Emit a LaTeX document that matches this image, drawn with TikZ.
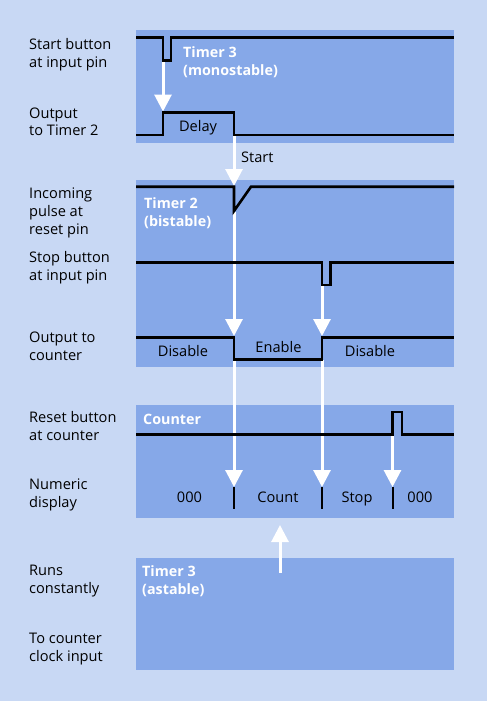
\documentclass[tikz,border=0pt]{standalone}
\usepackage{fontspec}
\setmainfont{Open Sans}
\usetikzlibrary{arrows.meta}
\definecolor{bgc}{HTML}{C8D8F4}
\definecolor{boxc}{HTML}{86A8E8}
\begin{document}
\begin{tikzpicture}[x=1pt,y=-1pt,
 sig/.style={line width=2.6pt,black,line join=miter},
 bar/.style={line width=2.6pt,black},
 flow/.style={line width=3pt,white,-{Triangle[width=17pt,length=17pt]}},
 lbl/.style={anchor=base west,inner sep=0pt,font=\fontsize{14.6}{18}\selectfont},
 ttl/.style={anchor=base west,inner sep=0pt,text=white,font=\fontsize{14.3}{18}\selectfont\bfseries},
 mid/.style={anchor=base,inner sep=0pt,font=\fontsize{14.6}{18}\selectfont}]
\fill[bgc] (0,0) rectangle (487,701);
\useasboundingbox (0,0) rectangle (487,701);
% panels
\fill[boxc] (136,30) rectangle (454,143);
\fill[boxc] (136,180) rectangle (454,367);
\fill[boxc] (136,405) rectangle (454,517.5);
\fill[boxc] (136,557.5) rectangle (454,669.5);
% coordinates for flows
\coordinate (s1) at (163,61);   \coordinate (e1) at (163,111.5);
\coordinate (s2) at (234,136);  \coordinate (e2) at (234,186);
\coordinate (s3) at (234,212);  \coordinate (e3) at (234,336);
\coordinate (s4) at (322,286);  \coordinate (e4) at (322,336);
\coordinate (s5) at (234,360);  \coordinate (e5) at (234,487);
\coordinate (s6) at (322,360);  \coordinate (e6) at (322,487);
\coordinate (s7) at (392.5,435);\coordinate (e7) at (392.5,487);
\coordinate (s8) at (280,573);  \coordinate (e8) at (280,525);
\foreach \i in {1,...,8} {\draw[flow] (s\i) -- (e\i);}
% signals
\draw[sig] (136,37.3) -- (163,37.3) -- (163,60.3) -- (171,60.3) -- (171,37.3) -- (454,37.3);
\draw[sig] (136,135) -- (163,135) -- (163,112.7) -- (234,112.7) -- (234,135) -- (454,135);
\draw[sig] (136,186.7) -- (234,186.7) -- (234,211) -- (251,186.7) -- (454,186.7);
\draw[sig] (136,262.3) -- (322,262.3) -- (322,285) -- (330.5,285) -- (330.5,262.3) -- (454,262.3);
\draw[sig] (136,337.7) -- (234,337.7) -- (234,359.3) -- (322,359.3) -- (322,337.7) -- (454,337.7);
\draw[sig] (136,434.3) -- (392.5,434.3) -- (392.5,412) -- (402,412) -- (402,434.3) -- (454,434.3);
\draw[bar] (234,487.3) -- (234,509.3);
\draw[bar] (322,487.3) -- (322,509.3);
\draw[bar] (393,487.3) -- (393,509.3);
% left labels
\node[lbl] (l1a) at (29,49.5) {Start button};
\node[lbl] (l1b) at (29,67.5) {at input pin};
\node[lbl] (l2a) at (29,118.5) {Output};
\node[lbl] (l2b) at (29,135.5) {to Timer 2};
\node[lbl] (l3a) at (29,198) {Incoming};
\node[lbl] (l3b) at (29,216) {pulse at};
\node[lbl] (l3c) at (29,234) {reset pin};
\node[lbl] (l4a) at (29,262.5) {Stop button};
\node[lbl] (l4b) at (29,280.5) {at input pin};
\node[lbl] (l5a) at (29,342.5) {Output to};
\node[lbl] (l5b) at (29,360.5) {counter};
\node[lbl] (l6a) at (29,422) {Reset button};
\node[lbl] (l6b) at (29,440) {at counter};
\node[lbl] (l7a) at (29,489.5) {Numeric};
\node[lbl] (l7b) at (29,507.5) {display};
\node[lbl] (l8a) at (29,575.5) {Runs};
\node[lbl] (l8b) at (29,593.5) {constantly};
\node[lbl] (l9a) at (29,643) {To counter};
\node[lbl] (l9b) at (29,661) {clock input};
% titles
\node[ttl] (t1a) at (183,57.5) {Timer 3};
\node[ttl] (t1b) at (183,75.5) {(monostable)};
\node[ttl] (t2a) at (144,208.5) {Timer 2};
\node[ttl] (t2b) at (144,226.5) {(bistable)};
\node[ttl] (t3a) at (143,424.5) {Counter};
\node[ttl] (t4a) at (142,576.5) {Timer 3};
\node[ttl] (t4b) at (142,594.5) {(astable)};
% inline texts
\node[mid] (m1) at (198,131.5) {Delay};
\node[lbl] (m2) at (241,162.5) {Start};
\node[mid] (m3) at (183,356.5) {Disable};
\node[mid] (m4) at (278.5,352) {Enable};
\node[mid] (m5) at (370,356.5) {Disable};
\node[mid] (m6) at (189.5,502.5) {000};
\node[mid] (m7) at (278,502.5) {Count};
\node[mid] (m8) at (357,502.5) {Stop};
\node[mid] (m9) at (420,502.5) {000};
\end{tikzpicture}
\end{document}
